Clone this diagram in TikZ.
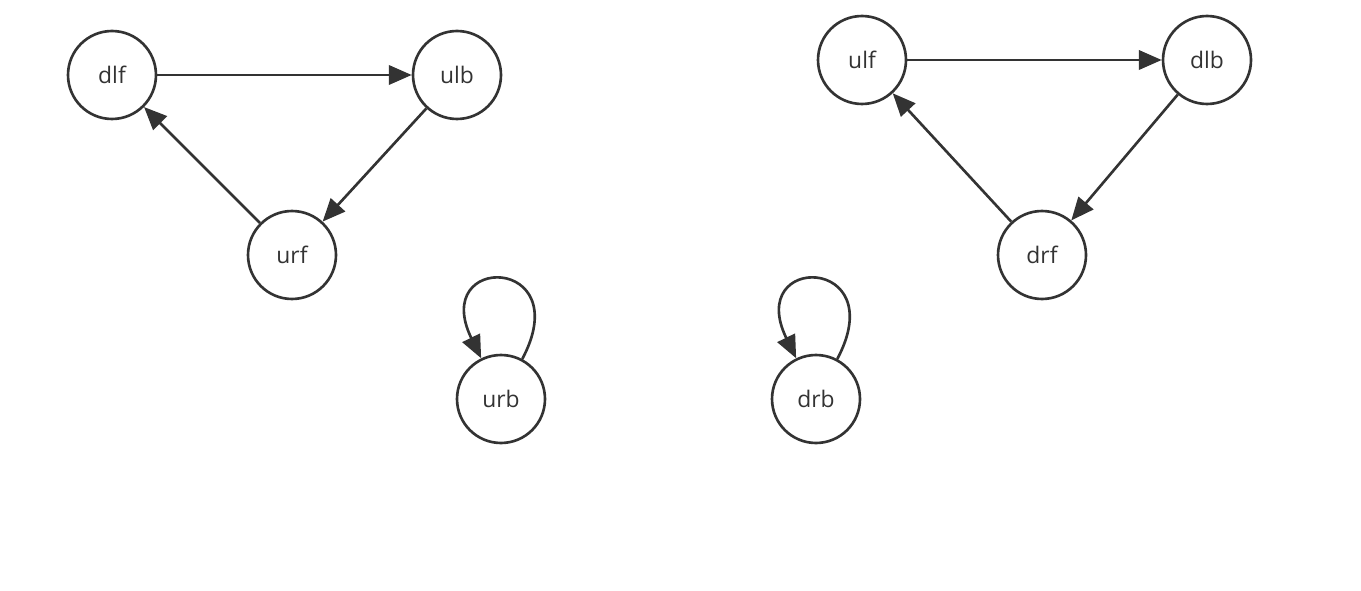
\documentclass[tikz,border=0pt]{standalone}
\usepackage{fontspec}
\setmainfont{Open Sans}
\usetikzlibrary{arrows.meta}

\begin{document}
\begin{tikzpicture}[x=0.02cm,y=-0.02cm,
    state/.style={draw=black!80,circle,line width=1.5pt,minimum size=1.76cm,inner sep=0pt,font=\fontsize{13}{15}\selectfont,text=black!80},
    move/.style={draw=black!80,line width=1.5pt,-{Triangle[length=13pt,width=11pt]}},
    selfloop/.style={move,out=62,in=116,looseness=7.3}]
    \useasboundingbox (0,0) rectangle (1361,591);
    % left cycle
    \node[state] (dlf) at (112,75) {dlf};
    \node[state] (ulb) at (457,75) {ulb};
    \node[state] (urf) at (292,255) {urf};
    \node[state] (urb) at (501,399) {urb};
    % right cycle
    \node[state] (ulf) at (862,60) {ulf};
    \node[state] (dlb) at (1207,60) {dlb};
    \node[state] (drf) at (1042,255) {drf};
    \node[state] (drb) at (816,399) {drb};

    \draw[move] (dlf) -- (ulb);
    \draw[move] (ulb) -- (urf);
    \draw[move] (urf) -- (dlf);
    \draw[move] (ulf) -- (dlb);
    \draw[move] (dlb) -- (drf);
    \draw[move] (drf) -- (ulf);
    \draw[selfloop] (urb) to (urb);
    \draw[selfloop] (drb) to (drb);
\end{tikzpicture}
\end{document}
